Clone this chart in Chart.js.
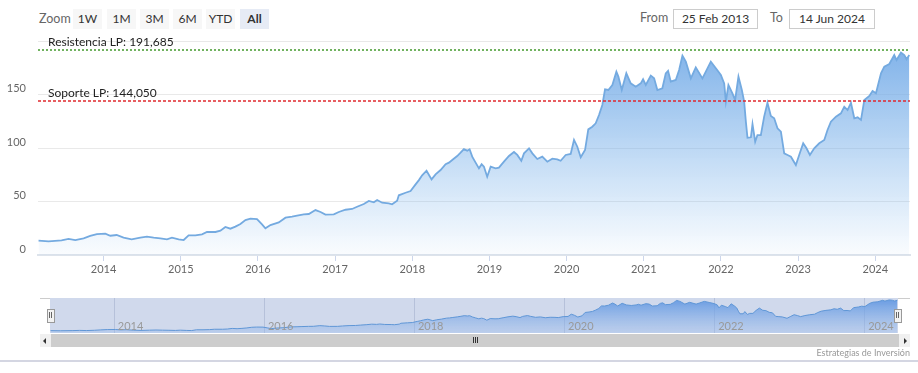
<!DOCTYPE html>
<html>
<head>
<meta charset="utf-8">
<script src="https://cdn.jsdelivr.net/npm/chart.js@4.4.1/dist/chart.umd.min.js"></script>
<style>
  body { margin: 0; background: #fff; font-family: Lato, "Open Sans", sans-serif; }
  #wrap { position: relative; width: 918px; height: 373px; overflow: hidden; }
  .abs { position: absolute; }
  .btn { position: absolute; top: 9px; height: 20px; width: 29px; background: #f7f7f7;
         color: #333; font-size: 12px; line-height: 20px; text-align: center; }
  .btn.sel { background: #e6ebf5; font-weight: bold; }
  .lbl { position: absolute; color: #666; font-size: 12.5px; line-height: 20px; }
  .box { position: absolute; top: 9px; height: 18px; border: 1px solid #ccc; color: #333;
         font-size: 12px; line-height: 18px; text-align: center; }
  .sbtn { position: absolute; top: 334px; height: 13px; width: 11px; background: #f0f0f0; }
</style>
</head>
<body>
<div id="wrap">
  <div class="lbl" style="left:39px;top:9px;">Zoom</div>
  <div class="btn" style="left:73px;">1W</div>
  <div class="btn" style="left:107px;">1M</div>
  <div class="btn" style="left:140px;">3M</div>
  <div class="btn" style="left:173px;">6M</div>
  <div class="btn" style="left:206px;">YTD</div>
  <div class="btn sel" style="left:240px;">All</div>
  <div class="lbl" style="left:640px;top:8px;">From</div>
  <div class="box" style="left:673px;width:83px;">25 Feb 2013</div>
  <div class="lbl" style="left:770px;top:8px;">To</div>
  <div class="box" style="left:789px;width:84px;">14 Jun 2024</div>

  <canvas id="mainChart" class="abs" width="918" height="255" style="left:0;top:30px;"></canvas>

  <div class="abs" style="left:40px;top:298px;width:870px;height:1px;background:#ccc;"></div>
  <canvas id="navChart" class="abs" width="848" height="35" style="left:50px;top:298px;background:#d0d9ec;"></canvas>
  <div class="abs" style="left:47px;top:309px;width:6px;height:12px;background:#f2f2f2;border:1px solid #999;"></div>
  <div class="abs" style="left:49px;top:312px;width:1px;height:6px;background:#666;"></div>
  <div class="abs" style="left:51px;top:312px;width:1px;height:6px;background:#666;"></div>
  <div class="abs" style="left:894px;top:309px;width:6px;height:12px;background:#f2f2f2;border:1px solid #999;"></div>
  <div class="abs" style="left:896px;top:312px;width:1px;height:6px;background:#666;"></div>
  <div class="abs" style="left:898px;top:312px;width:1px;height:6px;background:#666;"></div>

  <div class="sbtn" style="left:40px;"></div>
  <div class="abs" style="left:43px;top:338px;width:0;height:0;border-top:3px solid transparent;border-bottom:3px solid transparent;border-right:3px solid #333;"></div>
  <div class="abs" style="left:51px;top:334px;width:848px;height:13px;background:#cdcdcd;"></div>
  <div class="abs" style="left:473px;top:337px;width:1px;height:6px;background:#333;"></div>
  <div class="abs" style="left:475px;top:337px;width:1px;height:6px;background:#333;"></div>
  <div class="abs" style="left:477px;top:337px;width:1px;height:6px;background:#333;"></div>
  <div class="sbtn" style="left:899px;"></div>
  <div class="abs" style="left:904px;top:338px;width:0;height:0;border-top:3px solid transparent;border-bottom:3px solid transparent;border-left:3px solid #333;"></div>

  <div class="abs" style="right:8px;top:347px;color:#999;font-size:9px;">Estrategias de Inversión</div>
  <div class="abs" style="left:0;top:360px;width:918px;height:2px;background:#d4d6e2;"></div>
</div>

<script>
// fechas en años decimales y precio de cierre
const dates = [
  2013.157, 2013.287, 2013.455, 2013.546, 2013.633, 2013.741, 2013.827, 2013.913,
  2014.022, 2014.087, 2014.169, 2014.259, 2014.363, 2014.476, 2014.562, 2014.649,
  2014.735, 2014.821, 2014.886, 2014.973, 2015.038, 2015.102, 2015.189, 2015.275,
  2015.340, 2015.449, 2015.514, 2015.578, 2015.643, 2015.708, 2015.773, 2015.838,
  2015.903, 2015.988, 2016.053, 2016.097, 2016.162, 2016.270, 2016.357, 2016.442,
  2016.507, 2016.594, 2016.659, 2016.746, 2016.811, 2016.875, 2016.983, 2017.048,
  2017.135, 2017.220, 2017.285, 2017.372, 2017.437, 2017.502, 2017.545, 2017.610,
  2017.696, 2017.739, 2017.804, 2017.826, 2017.913, 2017.978, 2018.043, 2018.086,
  2018.128, 2018.185, 2018.250, 2018.302, 2018.367, 2018.432, 2018.475, 2018.518,
  2018.582, 2018.626, 2018.669, 2018.712, 2018.743, 2018.777, 2018.821, 2018.864,
  2018.899, 2018.929, 2018.971, 2019.016, 2019.080, 2019.123, 2019.188, 2019.253,
  2019.318, 2019.361, 2019.413, 2019.448, 2019.513, 2019.556, 2019.620, 2019.685,
  2019.750, 2019.815, 2019.879, 2019.923, 2019.988, 2020.053, 2020.096, 2020.139,
  2020.183, 2020.239, 2020.281, 2020.333, 2020.377, 2020.420, 2020.463, 2020.498,
  2020.541, 2020.593, 2020.645, 2020.671, 2020.715, 2020.774, 2020.831, 2020.896,
  2020.961, 2020.991, 2021.026, 2021.091, 2021.134, 2021.176, 2021.241, 2021.285,
  2021.315, 2021.350, 2021.415, 2021.458, 2021.501, 2021.545, 2021.610, 2021.674,
  2021.760, 2021.804, 2021.869, 2021.934, 2021.999, 2022.042, 2022.064, 2022.097,
  2022.149, 2022.184, 2022.227, 2022.271, 2022.301, 2022.323, 2022.344, 2022.388,
  2022.409, 2022.444, 2022.473, 2022.517, 2022.560, 2022.603, 2022.647, 2022.690,
  2022.733, 2022.777, 2022.820, 2022.863, 2022.907, 2022.971, 2023.014, 2023.066,
  2023.109, 2023.153, 2023.209, 2023.274, 2023.339, 2023.381, 2023.425, 2023.490,
  2023.555, 2023.598, 2023.641, 2023.685, 2023.728, 2023.771, 2023.815, 2023.858,
  2023.923, 2023.965, 2024.009, 2024.074, 2024.117, 2024.182, 2024.246, 2024.276,
  2024.333, 2024.376, 2024.406, 2024.441
];
const prices = [
  13.4, 12.8, 13.7, 15.0, 14.0, 15.6, 17.8, 19.6,
  19.9, 18.0, 18.7, 16.2, 14.7, 16.2, 17.1, 16.2,
  15.6, 14.7, 16.2, 14.7, 14.0, 18.4, 18.4, 19.3,
  21.5, 21.5, 22.7, 26.2, 24.6, 26.5, 29.0, 32.7,
  34.0, 33.6, 28.7, 25.0, 28.0, 30.5, 34.9, 35.8,
  36.7, 38.0, 38.3, 42.0, 40.2, 37.7, 38.0, 40.2,
  42.3, 43.0, 45.1, 47.7, 50.5, 49.2, 51.4, 48.9,
  48.3, 47.4, 50.7, 55.8, 58.2, 59.8, 66.0, 70.0,
  74.5, 78.8, 70.7, 75.4, 79.4, 84.8, 86.3, 88.8,
  92.5, 95.6, 99.0, 97.5, 98.8, 91.9, 86.3, 81.0,
  84.8, 82.5, 73.2, 82.5, 81.0, 81.6, 87.2, 92.5,
  96.3, 93.5, 88.1, 95.0, 99.7, 95.0, 89.7, 91.9,
  87.2, 90.0, 89.4, 88.1, 93.5, 94.4, 107.5, 101.2,
  91.3, 98.1, 117.4, 119.9, 123.1, 130.8, 140.2, 154.8,
  154.2, 158.9, 171.3, 166.7, 154.2, 169.8, 160.4, 157.3,
  160.4, 164.2, 158.9, 167.6, 165.1, 154.2, 155.8, 169.8,
  172.2, 162.0, 163.6, 172.9, 186.3, 180.7, 165.1, 175.4,
  165.1, 171.3, 180.7, 174.5, 168.2, 160.4, 143.3, 158.9,
  151.1, 144.9, 166.7, 154.2, 143.3, 124.6, 109.6, 110.0,
  122.4, 105.9, 112.1, 112.1, 129.3, 142.3, 129.9, 127.8,
  118.4, 115.2, 95.0, 93.5, 91.9, 84.1, 93.5, 104.4,
  99.7, 93.5, 99.7, 104.4, 107.5, 116.8, 124.6, 129.3,
  132.4, 138.6, 135.5, 142.3, 127.8, 128.7, 126.2, 144.9,
  148.6, 153.3, 151.1, 169.8, 176.0, 178.5, 186.9, 182.2,
  189.1, 186.9, 182.9, 186.9
];

const yearTicks = [2014, 2015, 2016, 2017, 2018, 2019, 2020, 2021, 2022, 2023, 2024];
const navYears = [2014, 2016, 2018, 2020, 2022, 2024];
const resistencia = 191.685;
const soporte = 144.05;
const plotLines = [
  { value: resistencia, text: "Resistencia LP: 191,685", color: "#4fa03a", dash: [2, 2] },
  { value: soporte, text: "Soporte LP: 144,050", color: "#e0282e", dash: [3, 2] },
];

const points = dates.map((d, i) => ({ x: d, y: prices[i] }));

const plotLinesPlugin = {
  id: "plotLines",
  afterDatasetsDraw(chart) {
    const { ctx, chartArea } = chart;
    const yScale = chart.scales.y;
    ctx.save();
    plotLines.forEach((pl) => {
      const y = Math.round(yScale.getPixelForValue(pl.value));
      ctx.strokeStyle = pl.color;
      ctx.lineWidth = 1.6;
      ctx.setLineDash(pl.dash);
      ctx.beginPath();
      ctx.moveTo(chartArea.left, y);
      ctx.lineTo(chartArea.right, y);
      ctx.stroke();
      ctx.setLineDash([]);
      ctx.fillStyle = "#222";
      ctx.font = "12px Lato, sans-serif";
      ctx.textBaseline = "alphabetic";
      ctx.fillText(pl.text, chartArea.left + 10, y - 4);
    });
    ctx.restore();
  },
};

new Chart(document.getElementById("mainChart"), {
  type: "line",
  data: {
    datasets: [
      {
        data: points,
        borderColor: "#74aae0",
        borderWidth: 1.8,
        pointRadius: 0,
        tension: 0,
        fill: "origin",
        backgroundColor: (context) => {
          const { ctx, chartArea } = context.chart;
          if (!chartArea) return "rgba(124,181,236,0.5)";
          const g = ctx.createLinearGradient(0, chartArea.top, 0, chartArea.bottom);
          g.addColorStop(0, "rgba(112,168,230,0.92)");
          g.addColorStop(1, "rgba(124,181,236,0.04)");
          return g;
        },
      },
    ],
  },
  options: {
    responsive: false,
    animation: false,
    devicePixelRatio: 1,
    layout: { padding: { top: 11, right: 8, left: 0, bottom: 0 } },
    plugins: { legend: { display: false }, tooltip: { enabled: false } },
    scales: {
      x: {
        type: "linear",
        min: 2013.15,
        max: 2024.45,
        afterBuildTicks: (scale) => {
          scale.ticks = yearTicks.map((v) => ({ value: v }));
        },
        afterFit: (scale) => {
          scale.height = 30;
          scale.paddingLeft = 0;
          scale.paddingRight = 0;
        },
        grid: { drawOnChartArea: false, drawTicks: true, tickLength: 6, color: "#ccd6eb" },
        border: { color: "#dde3eb", width: 2 },
        ticks: {
          color: "#666",
          font: { family: "Lato, sans-serif", size: 11 },
          padding: 2,
          maxRotation: 0,
          callback: (v) => String(v),
        },
      },
      y: {
        min: 0,
        max: 200,
        afterFit: (scale) => {
          scale.width = 38;
          scale.paddingTop = 0;
          scale.paddingBottom = 0;
        },
        grid: { color: "#e9e9e9", drawTicks: false },
        border: { display: false },
        ticks: {
          stepSize: 50,
          color: "#666",
          font: { family: "Lato, sans-serif", size: 11 },
          padding: 12,
          labelOffset: -6,
          callback: (v) => (v === 200 ? "" : v),
        },
      },
    },
  },
  plugins: [plotLinesPlugin],
});

// navegador inferior
const navPlugin = {
  id: "navDecor",
  beforeDatasetsDraw(chart) {
    const { ctx, chartArea } = chart;
    const xs = chart.scales.x;
    ctx.save();
    ctx.strokeStyle = "rgba(150,165,195,0.45)";
    ctx.lineWidth = 1;
    navYears.forEach((yr) => {
      const x = Math.round(xs.getPixelForValue(yr)) + 0.5;
      ctx.beginPath();
      ctx.moveTo(x, chartArea.top);
      ctx.lineTo(x, chartArea.bottom);
      ctx.stroke();
    });
    ctx.restore();
  },
  afterDatasetsDraw(chart) {
    const { ctx } = chart;
    const xs = chart.scales.x;
    ctx.save();
    ctx.fillStyle = "#999";
    ctx.font = "11px Lato, sans-serif";
    ctx.textBaseline = "middle";
    navYears.forEach((yr) => {
      ctx.fillText(String(yr), xs.getPixelForValue(yr) + 4, 28);
    });
    ctx.restore();
  },
};

new Chart(document.getElementById("navChart"), {
  type: "line",
  data: {
    datasets: [
      {
        data: points,
        borderColor: "#5f96d6",
        borderWidth: 1,
        pointRadius: 0,
        tension: 0,
        fill: "origin",
        backgroundColor: (context) => {
          const { ctx, chartArea } = context.chart;
          if (!chartArea) return "rgba(100,155,225,0.6)";
          const g = ctx.createLinearGradient(0, chartArea.top, 0, chartArea.bottom);
          g.addColorStop(0, "rgba(95,150,225,0.95)");
          g.addColorStop(1, "rgba(150,185,235,0.35)");
          return g;
        },
      },
    ],
  },
  options: {
    responsive: false,
    animation: false,
    devicePixelRatio: 1,
    layout: { padding: 0 },
    plugins: { legend: { display: false }, tooltip: { enabled: false } },
    scales: {
      x: { type: "linear", min: 2013.15, max: 2024.45, display: false },
      y: { min: 0, max: 200, display: false },
    },
  },
  plugins: [navPlugin],
});
</script>
</body>
</html>
